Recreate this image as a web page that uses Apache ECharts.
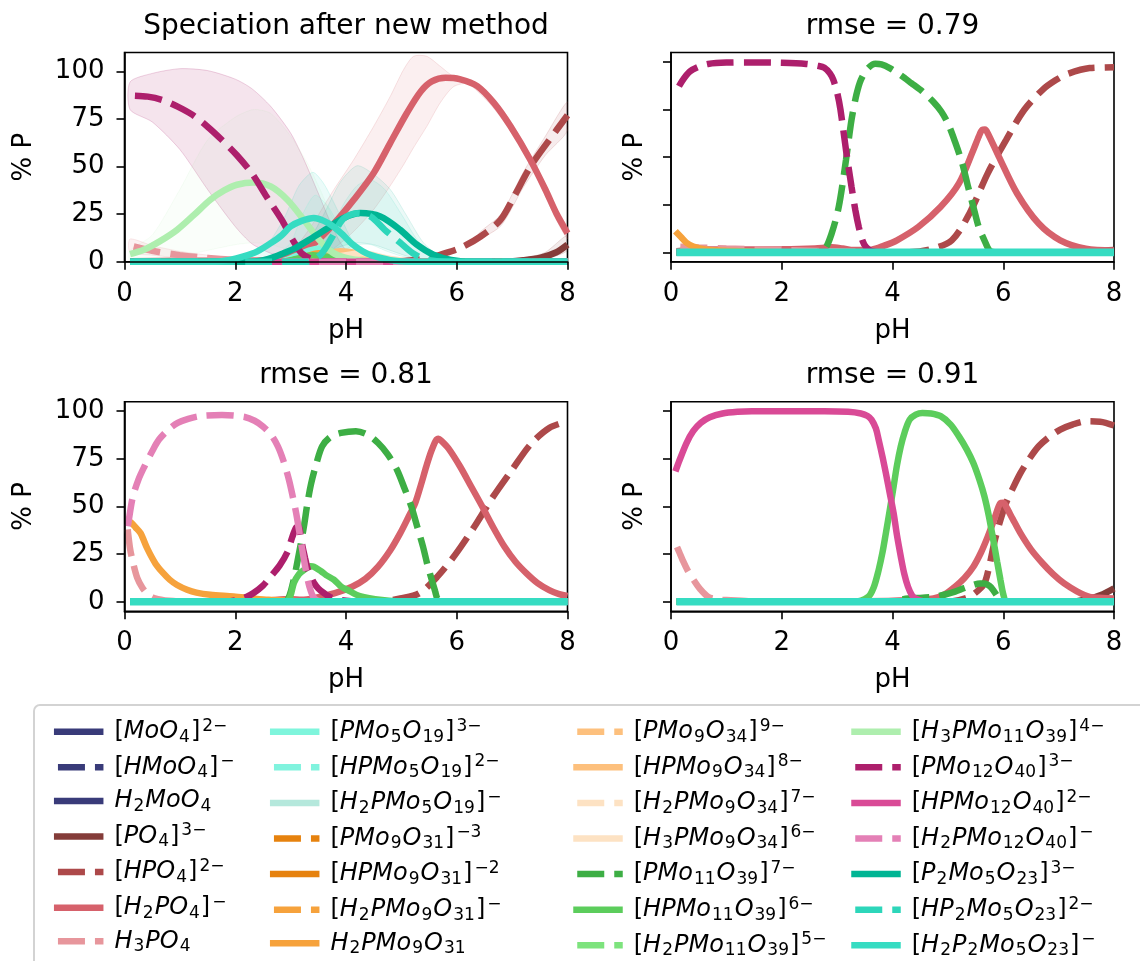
<!DOCTYPE html>
<html><head><meta charset="utf-8">
<script src="https://cdn.jsdelivr.net/npm/echarts@6/dist/echarts.min.js"></script>
<style>html,body{margin:0;padding:0;background:#fff}#c{width:1140px;height:961px}</style>
</head><body><div id="c"></div>
<script>
const FONT = 'DejaVu Sans';

// ---- species (legend order) ----
const names = [
 '[MoO_4]^{2-}','[HMoO_4]^{-}','H_2MoO_4','[PO_4]^{3-}','[HPO_4]^{2-}','[H_2PO_4]^{-}','H_3PO_4',
 '[PMo_5O_{19}]^{3-}','[HPMo_5O_{19}]^{2-}','[H_2PMo_5O_{19}]^{-}','[PMo_9O_{31}]^{-3}','[HPMo_9O_{31}]^{-2}','[H_2PMo_9O_{31}]^{-}','H_2PMo_9O_{31}',
 '[PMo_9O_{34}]^{9-}','[HPMo_9O_{34}]^{8-}','[H_2PMo_9O_{34}]^{7-}','[H_3PMo_9O_{34}]^{6-}','[PMo_{11}O_{39}]^{7-}','[HPMo_{11}O_{39}]^{6-}','[H_2PMo_{11}O_{39}]^{5-}',
 '[H_3PMo_{11}O_{39}]^{4-}','[PMo_{12}O_{40}]^{3-}','[HPMo_{12}O_{40}]^{2-}','[H_2PMo_{12}O_{40}]^{-}','[P_2Mo_5O_{23}]^{3-}','[HP_2Mo_5O_{23}]^{2-}','[H_2P_2Mo_5O_{23}]^{-}'
];
const colors = [
 '#393b79','#393b79','#393b79','#843c39','#ad494a','#d6616b','#e7969c',
 '#7ff5dc','#80f3de','#b5e8dc','#e6820e','#e6820e','#f6a23c','#f6a23c',
 '#fdc07d','#fdc07d','#fde2c3','#fde2c3','#3dae44','#5ccd5c','#7de37d',
 '#aeeeae','#ad1f6c','#d94a96','#e480b6','#00b594','#2dd6ba','#36dcc2'
];
const dashed = [0,1,0,0,1,0,1, 0,1,0,1,0,1,0, 1,0,1,0,1,0,1, 0,1,0,1,0,1,0];

const titles = ['Speciation after new method','rmse = 0.79','rmse = 0.81','rmse = 0.91'];
const yTicks = [0,25,50,75,100];
const zeroLine = [[0.1,0],[8,0]];

// ---- subplot 1 curves [pH, %P] ----
const s1_PO4 = [[0.1,0],[6.8,0],[7.2,0.8],[7.5,2],[7.8,5],[8,9]];
const s1_HPO4 = [[0.1,0],[4.8,0],[5.2,0.8],[5.5,2],[5.7,3.7],[6.06,7.2],[6.43,13.3],[6.79,22],[7.03,34],[7.33,50],[7.67,64],[8,77]];
const s1_H2PO4 = [[0.1,0.3],[1,0.5],[2,0.6],[2.6,1],[3.0,3],[3.4,9],[3.78,20],[4.14,32.6],[4.5,46.7],[4.8,62.5],[5.1,78.2],[5.35,89.5],[5.55,94.8],[5.8,96.7],[6.05,96],[6.37,92.3],[6.67,83.5],[6.97,71.2],[7.33,53.5],[7.6,38],[7.8,25.4],[8,15]];
const s1_H3PO4 = [[0.1,8.5],[0.5,5.8],[1,3.5],[1.5,2],[2,1],[2.5,0.5],[3,0.2],[3.5,0],[8,0]];
const s1_PMo5O19 = [[0.1,0],[2.8,0],[3.1,3],[3.35,6],[3.55,7],[3.8,5],[4.1,2],[4.4,0.3],[4.8,0],[8,0]];
const s1_H2PMo9O31n = [[0.1,0],[2.9,0],[3.2,2],[3.5,4.5],[3.8,4],[4.1,1.5],[4.5,0],[8,0]];
const s1_HPMo9O34 = [[0.1,0],[3.1,0],[3.5,3],[3.9,5.5],[4.3,4],[4.7,1],[5.1,0],[8,0]];
const s1_H3PMo9O34 = [[0.1,0],[3.4,0],[3.9,3],[4.3,4.5],[4.7,2],[5.1,0.3],[5.5,0],[8,0]];
const s1_HPMo11O39 = [[0.1,0],[2.8,0],[3.1,1.5],[3.4,3.5],[3.7,2.5],[4.0,0.8],[4.4,0],[8,0]];
const s1_H3PMo11O39 = [[0.1,4],[0.35,6.3],[0.65,11],[0.95,16.8],[1.25,24.5],[1.55,32.6],[1.8,37.5],[2.03,40.5],[2.33,41.7],[2.64,39.6],[2.94,32.6],[3.24,22],[3.5,12],[3.75,5],[4.0,2],[4.3,0.5],[4.7,0],[8,0]];
const s1_PMo12O40 = [[0.12,87.4],[0.42,86.8],[0.69,85],[0.96,81.6],[1.23,77.2],[1.5,71],[1.76,64],[2.03,56],[2.3,46.5],[2.57,34],[2.84,22],[3.04,11.4],[3.2,4.4],[3.4,1.2],[3.6,0.2],[4,0],[8,0]];
const s1_P2Mo5O23 = [[0.1,0],[2.3,0],[2.6,1.5],[2.88,4.6],[3.1,7.5],[3.36,12],[3.66,17.5],[3.96,23],[4.26,25.6],[4.62,23.8],[4.98,16.8],[5.28,9],[5.58,3.7],[5.9,1],[6.3,0],[8,0]];
const s1_HP2Mo5O23 = [[0.1,0],[3.3,0],[3.55,4],[3.75,13],[3.95,22.5],[4.2,25.5],[4.45,23.7],[4.7,16.8],[4.98,10],[5.2,4.6],[5.45,1.2],[5.8,0],[8,0]];
const s1_H2P2Mo5O23 = [[0.1,0],[1.6,0],[1.9,1],[2.15,2.8],[2.4,5.5],[2.64,9.8],[2.84,14],[3.0,18.6],[3.2,21.5],[3.42,23],[3.6,21.5],[3.78,18.4],[3.95,14],[4.1,9.6],[4.3,5.5],[4.45,3.5],[4.8,0.9],[5.2,0],[8,0]];

// ---- subplot 1 uncertainty bands: pH, lower, upper ----
const b_PMo12O40_x  = [0.1,0.5,1.0,1.5,2.0,2.3,2.64,3.0,3.24,3.5,3.7,3.9,4.1,4.3];
const b_PMo12O40_hi = [94.5,99,101.5,100.5,96,91,81.7,67.7,53.7,36,22,10,3,0];
const b_PMo12O40_lo = [80,73.5,59,38,18.5,9.5,4.5,2,1,0.3,0,0,0,0];
const b_H3PMo11_x  = [0.1,0.5,1.0,1.5,2.0,2.33,2.64,3.0,3.3,3.5,3.7,3.9,4.1,4.3,4.6];
const b_H3PMo11_hi = [6,14,38,64,76,80,78,66,52,40,27,14,6,2,0];
const b_H3PMo11_lo = [0.5,1,3,6,9,10,9,6,3,1.5,0.5,0,0,0,0];
const b_H2PO4_x  = [2.8,3.1,3.4,3.78,4.14,4.5,4.8,5.04,5.22,5.46,5.7,5.94,6.2,6.6,7.0,7.4,7.8,8.0];
const b_H2PO4_hi = [0.5,8,20,37.9,53.7,71.2,87,101,108,108,102.8,97.5,95.5,88,72.5,52,28,18];
const b_H2PO4_lo = [0,0,1,7,16,27.5,40,51,60,71.2,83.5,92,93.5,83,67.5,47,22,12];
const b_HPO4_x  = [6.4,6.8,7.2,7.6,8.0];
const b_HPO4_hi = [15,25,47,66,84];
const b_HPO4_lo = [12,19,39,56,69];
const b_PO4_x  = [7.2,7.6,8.0];
const b_PO4_hi = [1.5,5,14];
const b_PO4_lo = [0.3,1.5,6];
const b_H3PO4_x  = [0.1,0.5,1,1.5,2,2.5,3];
const b_H3PO4_hi = [12,8.5,5.5,3.5,2,1,0.3];
const b_H3PO4_lo = [5,3.5,2,1,0.4,0.1,0];
const b_H2P2_x  = [2.2,2.6,2.9,3.15,3.4,3.6,3.85,4.1,4.4,4.8];
const b_H2P2_hi = [2,10,24,40,47,41,27,12,3,0];
const b_H2P2_lo = [0,2,6,9,10,9,6,3,0.5,0];
const b_P2_x  = [3.0,3.3,3.6,3.9,4.2,4.5,4.8,5.1,5.4,5.7,6.1];
const b_P2_hi = [3,10,25,42,50.5,46,38,24,10,3,0];
const b_P2_lo = [0,1,4,8,10,9,6,3,1,0,0];
const b_HP2_x  = [3.4,3.7,3.95,4.2,4.45,4.7,5.0,5.3,5.6,6.0];
const b_HP2_hi = [2,14,30,40,43,38,25,11,3,0];
const b_HP2_lo = [0,2,6,9,9,6,3,1,0,0];
const b_PMo5_x  = [2.7,3.0,3.2,3.44,3.7,3.95,4.2,4.5];
const b_PMo5_hi = [2,10,24,35,28,14,5,0];
const b_PMo5_lo = [0,0.5,1.5,2,1.5,0.5,0,0];

// ---- subplot 2 curves ----
const s2_PO4 = [[0.1,0],[7,0],[7.5,0.5],[8,1.2]];
const s2_HPO4 = [[0.1,0],[4.3,0],[4.67,1.4],[5.07,6.3],[5.39,20.4],[5.72,41.5],[6.05,59],[6.38,74.9],[6.71,85.4],[6.95,90.5],[7.17,93.8],[7.56,96.8],[8,97.2]];
const s2_H2PO4 = [[0.1,0.5],[0.5,1.5],[1,1.5],[2,1.6],[2.6,2],[2.9,2.6],[3.1,2],[3.3,1.2],[3.62,1.4],[3.85,3.5],[4.08,6.3],[4.47,13.4],[4.87,23.9],[5.2,36.2],[5.46,53.8],[5.56,61],[5.62,64.3],[5.67,64.5],[5.72,62.6],[5.92,50.3],[6.25,30.9],[6.64,15.1],[7.03,6.3],[7.49,1.9],[8,1]];
const s2_H3PO4 = [[0.1,3],[0.5,2.5],[1,2],[2,1.2],[3,0.5],[4,0],[8,0]];
const s2_H2PMo9O31n = [[0.08,11],[0.18,8],[0.28,5],[0.4,3],[0.52,2],[0.7,1.2],[1,0.8],[1.5,0.3],[2,0],[8,0]];
const s2_PMo11O39 = [[0.1,0],[2.6,0],[2.77,1.4],[2.9,9.8],[3.03,24],[3.16,48.5],[3.26,69.6],[3.35,83],[3.43,90.7],[3.55,96.5],[3.69,99.1],[3.8,98.8],[3.95,96.8],[4.15,93],[4.34,88.9],[4.54,84.5],[4.74,79],[4.88,74],[5.0,67.8],[5.13,58],[5.26,46.7],[5.36,35],[5.46,23.9],[5.56,13],[5.66,6.3],[5.75,1],[5.85,0],[8,0]];
const s2_PMo12O40 = [[0.11,85.4],[0.2,90],[0.34,95],[0.5,97.5],[0.67,99],[1.0,99.7],[1.46,99.8],[2.0,99.6],[2.44,99],[2.65,98],[2.77,97],[2.87,94],[2.93,90.7],[3.0,84],[3.06,75],[3.16,53.8],[3.26,34.4],[3.33,22],[3.39,13.4],[3.46,6],[3.52,2.8],[3.62,0.7],[3.8,0],[8,0]];

// ---- subplot 3 curves ----
const s3_HPO4 = [[0.1,0],[4.6,0],[4.98,1.75],[5.32,4.4],[5.65,13.2],[5.99,25.4],[6.32,39.5],[6.66,55.3],[7.0,69.3],[7.33,82.5],[7.67,91.2],[8,94.7]];
const s3_H2PO4 = [[0.1,0],[1.5,0.2],[2.5,0.5],[3.0,1.5],[3.2,1],[3.44,2],[3.8,4.5],[4.11,7.9],[4.35,12],[4.58,18.4],[4.8,27],[4.98,36],[5.12,44],[5.25,51.8],[5.36,62],[5.45,71],[5.54,79],[5.62,84.5],[5.67,85.5],[5.72,84.5],[5.85,80.5],[6.06,71],[6.26,60.5],[6.46,50],[6.66,39],[6.86,29],[7.06,21],[7.26,14.9],[7.46,9.8],[7.67,6.1],[7.85,4],[8,3]];
const s3_H3PO4 = [[0.05,40],[0.1,28],[0.15,21],[0.23,12.5],[0.32,7.5],[0.42,4],[0.55,1.8],[0.8,0.5],[1.2,0],[8,0]];
const s3_H2PMo9O31n = [[0.05,43],[0.12,41.5],[0.2,39],[0.29,36],[0.41,28],[0.56,20],[0.7,15],[0.82,11.5],[0.95,8.8],[1.13,6.3],[1.3,4.8],[1.55,3.7],[1.97,2.8],[2.3,1.8],[2.6,1],[3,0.5],[3.5,0],[8,0]];
const s3_PMo11O39 = [[0.1,0],[2.8,0],[2.94,0.9],[3.04,9.6],[3.14,23.7],[3.24,39.5],[3.3,51],[3.37,62],[3.47,73],[3.57,81.6],[3.72,86.5],[3.91,88.6],[4.18,89.5],[4.4,87.5],[4.58,83.3],[4.75,77.5],[4.92,69.3],[5.05,60],[5.18,50],[5.29,39],[5.39,29],[5.47,19.5],[5.55,11.4],[5.61,5.5],[5.65,1.8],[5.75,0],[8,0]];
const s3_HPMo11O39 = [[0.1,0],[2.8,0],[2.97,1.5],[3.06,10],[3.15,14.5],[3.24,16.7],[3.36,18.6],[3.42,18.4],[3.55,16],[3.64,14],[3.78,11.6],[3.91,8],[4.02,6.3],[4.25,3],[4.65,0.9],[5.1,0],[8,0]];
const s3_PMo12O40 = [[0.1,0],[1.8,0],[2.03,0.9],[2.2,2.5],[2.33,4.6],[2.5,8.5],[2.64,13.3],[2.8,19],[2.94,26],[3.03,34],[3.1,39],[3.14,39.5],[3.2,31],[3.26,23],[3.31,17],[3.37,13],[3.42,10],[3.5,7],[3.6,4.6],[3.75,2],[4,0.5],[4.3,0],[8,0]];
const s3_H2PMo12O40 = [[0.05,37.7],[0.1,47],[0.15,55],[0.25,64],[0.36,71],[0.5,79],[0.62,85],[0.8,90.5],[0.96,93.9],[1.15,96],[1.36,97.4],[1.76,98],[2.17,97],[2.35,95],[2.5,92],[2.65,87.5],[2.77,81.6],[2.87,74],[2.97,64],[3.04,55],[3.1,46.5],[3.15,38],[3.2,29],[3.26,19],[3.31,11.4],[3.36,6],[3.41,2.6],[3.5,0.5],[3.7,0],[8,0]];

// ---- subplot 4 curves ----
const s4_PO4 = [[0.1,0],[7.2,0],[7.56,1.75],[7.8,4],[8,7]];
const s4_HPO4 = [[0.1,0],[5.0,0],[5.2,0.8],[5.39,2.6],[5.55,6],[5.66,9.6],[5.75,19],[5.85,32.5],[5.95,43],[6.05,51.8],[6.18,60],[6.31,67.5],[6.47,75],[6.64,81.6],[6.83,86.5],[7.03,90.4],[7.25,93],[7.49,94.7],[7.75,94.5],[8,92.5]];
const s4_H2PO4 = [[0.1,0],[3.5,0.3],[4.3,0.8],[4.74,1.75],[4.95,4],[5.13,7.9],[5.3,12.5],[5.46,18.4],[5.6,26],[5.72,34.2],[5.84,43.5],[5.95,51.8],[6.0,52],[6.05,50],[6.17,43.5],[6.31,36],[6.5,27.5],[6.71,20.2],[6.9,14.5],[7.1,9.6],[7.33,5.5],[7.56,2.6],[7.8,2],[8,1.75]];
const s4_H3PO4 = [[0.08,30.7],[0.15,26],[0.21,21.9],[0.3,16.5],[0.41,11.4],[0.53,6.5],[0.67,2.6],[0.85,1.2],[1.0,0.9],[1.4,0.3],[2,0],[8,0]];
const s4_PMo11O39 = [[0.1,0],[3.9,0],[4.28,1.75],[4.5,2],[4.74,2.6],[4.95,3.8],[5.13,5.3],[5.3,7.2],[5.46,8.8],[5.58,9.6],[5.66,9.6],[5.75,8.3],[5.82,6.1],[5.88,3.5],[5.92,1.8],[6.0,0.3],[6.2,0],[8,0]];
const s4_HPMo11O39 = [[0.1,0],[3.3,0],[3.56,2.6],[3.66,7.5],[3.75,16.7],[3.82,26],[3.88,36],[3.95,48],[4.02,60.5],[4.08,71.5],[4.15,81.6],[4.22,89],[4.31,95.6],[4.42,98.2],[4.54,99.1],[4.7,98.8],[4.87,97.4],[5.05,93],[5.2,86.8],[5.34,80],[5.46,72.8],[5.57,64],[5.66,55.3],[5.74,45],[5.82,32.5],[5.89,21],[5.95,11.4],[6.0,4],[6.05,0.5],[6.2,0],[8,0]];
const s4_HPMo12O40 = [[0.08,68.4],[0.15,74],[0.28,83.3],[0.4,89.5],[0.54,93.9],[0.7,96.8],[0.93,98.8],[1.2,99.7],[1.46,100],[2.77,100],[3.2,99.7],[3.43,98.8],[3.55,97.5],[3.62,95.6],[3.7,91],[3.75,85],[3.82,76],[3.88,67.5],[3.95,57],[4.02,46.5],[4.08,35],[4.15,23.7],[4.21,15],[4.28,7.9],[4.35,3.5],[4.41,1.75],[4.55,0.3],[4.8,0],[8,0]];

// species index -> curve, per subplot
const curves = [
 {3:s1_PO4,4:s1_HPO4,5:s1_H2PO4,6:s1_H3PO4,7:s1_PMo5O19,13:s1_H2PMo9O31n,15:s1_HPMo9O34,17:s1_H3PMo9O34,19:s1_HPMo11O39,21:s1_H3PMo11O39,22:s1_PMo12O40,25:s1_P2Mo5O23,26:s1_HP2Mo5O23,27:s1_H2P2Mo5O23},
 {3:s2_PO4,4:s2_HPO4,5:s2_H2PO4,6:s2_H3PO4,13:s2_H2PMo9O31n,18:s2_PMo11O39,22:s2_PMo12O40},
 {4:s3_HPO4,5:s3_H2PO4,6:s3_H3PO4,13:s3_H2PMo9O31n,18:s3_PMo11O39,19:s3_HPMo11O39,22:s3_PMo12O40,24:s3_H2PMo12O40},
 {3:s4_PO4,4:s4_HPO4,5:s4_H2PO4,6:s4_H3PO4,18:s4_PMo11O39,19:s4_HPMo11O39,23:s4_HPMo12O40}
];
const bands = [
 [22,b_PMo12O40_x,b_PMo12O40_lo,b_PMo12O40_hi,0.12],[21,b_H3PMo11_x,b_H3PMo11_lo,b_H3PMo11_hi,0.06],
 [5,b_H2PO4_x,b_H2PO4_lo,b_H2PO4_hi,0.1],[4,b_HPO4_x,b_HPO4_lo,b_HPO4_hi,0.1],[3,b_PO4_x,b_PO4_lo,b_PO4_hi,0.1],
 [6,b_H3PO4_x,b_H3PO4_lo,b_H3PO4_hi,0.12],[7,b_PMo5_x,b_PMo5_lo,b_PMo5_hi,0.12],[27,b_H2P2_x,b_H2P2_lo,b_H2P2_hi,0.1],
 [25,b_P2_x,b_P2_lo,b_P2_hi,0.08],[26,b_HP2_x,b_HP2_lo,b_HP2_hi,0.08]
];

// ---- layout ----
const gridBoxes = [
 {left:124.5, top:52.5, width:443, height:209.3},
 {left:671, top:52.5, width:443, height:209.3},
 {left:124.5, top:401.7, width:443, height:209.6},
 {left:671, top:401.7, width:443, height:209.6}
];
const yRanges = [[0,110],[-5,105],[-5,105],[-5,105]];

function rgba(hex, a){
  const n = parseInt(hex.slice(1),16);
  return 'rgba(' + ((n>>16)&255) + ',' + ((n>>8)&255) + ',' + (n&255) + ',' + a + ')';
}
function toRich(s){
  let out = '{sp| }';
  let i = 0;
  while (i < s.length){
    const c = s[i];
    if (c === '_' || c === '^'){
      let t;
      if (s[i+1] === '{'){ const j = s.indexOf('}', i+2); t = s.slice(i+2, j); i = j+1; }
      else { t = s[i+1]; i += 2; }
      out += '{' + (c === '_' ? 'sub' : 'sup') + '|' + t.replace(/-/g,'\u2212') + '}';
    } else if (c === '[' || c === ']'){
      out += '{rm|' + c + '}'; i++;
    } else {
      let j = i;
      while (j < s.length && '_^[]'.indexOf(s[j]) < 0) j++;
      out += '{it|' + s.slice(i,j) + '}'; i = j;
    }
  }
  return out;
}

const series = [];
// bands (subplot 1)
bands.forEach(function(b){
  const idx = b[0], xs = b[1], lo = b[2], hi = b[3], a = b[4];
  series.push({
    type:'custom', xAxisIndex:0, yAxisIndex:0, silent:true, z:1, clip:true,
    data: xs.map(function(x,k){ return [x, lo[k], hi[k]]; }),
    encode:{x:0, y:[1,2]},
    renderItem: function(params, api){
      if (params.dataIndex !== 0) return null;
      const top = xs.map(function(x,k){ return api.coord([x, hi[k]]); });
      const bot = xs.map(function(x,k){ return api.coord([x, lo[k]]); }).reverse();
      return {type:'polygon', shape:{points: top.concat(bot), smooth:0.25},
        style:{fill: rgba(colors[idx], a), stroke: rgba(colors[idx], a*1.6), lineWidth:1}};
    }
  });
});
for (let g = 0; g < 4; g++){
  for (let i = 0; i < 28; i++){
    const d = curves[g][i] || zeroLine;
    series.push({
      type:'line', name:names[i], xAxisIndex:g, yAxisIndex:g,
      data:d, symbol:'none', smooth:0.3, z:2, silent:true,
      lineStyle:{color:colors[i], width:(i===27 && g>0) ? 7.7 : 6.5,
        type: dashed[i] ? [27,10] : 'solid', dashOffset: dashed[i] ? 33 : 0, cap:'butt'}
    });
  }
}

const axisText = {fontFamily:FONT, fontSize:26, color:'#000'};
const LF = 24, SF = 17;
const option = {
  animation:false,
  backgroundColor:'#fff',
  title: titles.map(function(t,g){
    const b = gridBoxes[g];
    return {text:t, left:b.left + b.width/2, top: g<2 ? 12.5 : 362, textAlign:'center', padding:0,
      textStyle:{fontFamily:FONT, fontSize:28, fontWeight:'normal', color:'#000'}};
  }),
  grid: gridBoxes.map(function(b){
    return {left:b.left, top:b.top, width:b.width, height:b.height, show:true, borderColor:'#000', borderWidth:1.6, backgroundColor:'rgba(0,0,0,0)', containLabel:false};
  }),
  xAxis: gridBoxes.map(function(b,g){
    return {gridIndex:g, type:'value', min:0, max:8, interval:2, z:5,
      axisLine:{show:true, onZero:false, lineStyle:{color:'#000', width:1.6}},
      axisTick:{show:true, inside:false, length:8, lineStyle:{color:'#000', width:1.6}},
      axisLabel:Object.assign({margin:19}, axisText),
      splitLine:{show:false},
      name:'pH', nameLocation:'middle', nameGap:56, nameTextStyle:axisText};
  }),
  yAxis: gridBoxes.map(function(b,g){
    return {gridIndex:g, type:'value', min:yRanges[g][0], max:yRanges[g][1], z:5,
      axisLine:{show:true, onZero:false, lineStyle:{color:'#000', width:1.6}},
      axisTick:{show:true, inside:false, length:8, customValues:yTicks, lineStyle:{color:'#000', width:1.6}},
      axisLabel:Object.assign({show: g%2===0, margin:20, customValues:yTicks}, axisText),
      splitLine:{show:false},
      name:'% P', nameLocation:'middle', nameRotate:90, nameGap: g%2===0 ? 87 : 23, nameTextStyle:axisText};
  }),
  graphic:[{type:'rect', z:0, silent:true,
    shape:{x:34, y:705, width:1200, height:400, r:6},
    style:{fill:'#fff', stroke:'#d3d3d3', lineWidth:2}}],
  legend: [0,1,2,3].map(function(c){
    const lefts = [50.7, 266.7, 570, 848];
    return {type:'plain', orient:'vertical', left:lefts[c], top:717.7, height:400, padding:0,
      itemWidth:49.5, itemHeight:14, itemGap:7.6, selectedMode:false,
      data:names.slice(c*7, c*7+7),
      formatter:toRich,
      itemStyle:{opacity:0},
      lineStyle:{width:6.5},
      textStyle:{color:'#000', fontFamily:FONT, fontSize:LF,
        rich:{
          sp:{width:6, fontSize:LF, lineHeight:28},
          it:{fontStyle:'italic', fontSize:LF, lineHeight:28, fontFamily:FONT, color:'#000'},
          rm:{fontSize:LF, lineHeight:28, fontFamily:FONT, color:'#000'},
          sub:{fontSize:SF, lineHeight:16, verticalAlign:'bottom', padding:[0,1,0,1], fontFamily:FONT, color:'#000'},
          sup:{fontSize:SF, lineHeight:16, verticalAlign:'top', padding:[0,0,0,2], fontFamily:FONT, color:'#000'}
        }}
    };
  }),
  series: series
};
const chart = echarts.init(document.getElementById('c'), null, {renderer:'canvas'});
chart.setOption(option);
</script></body></html>
